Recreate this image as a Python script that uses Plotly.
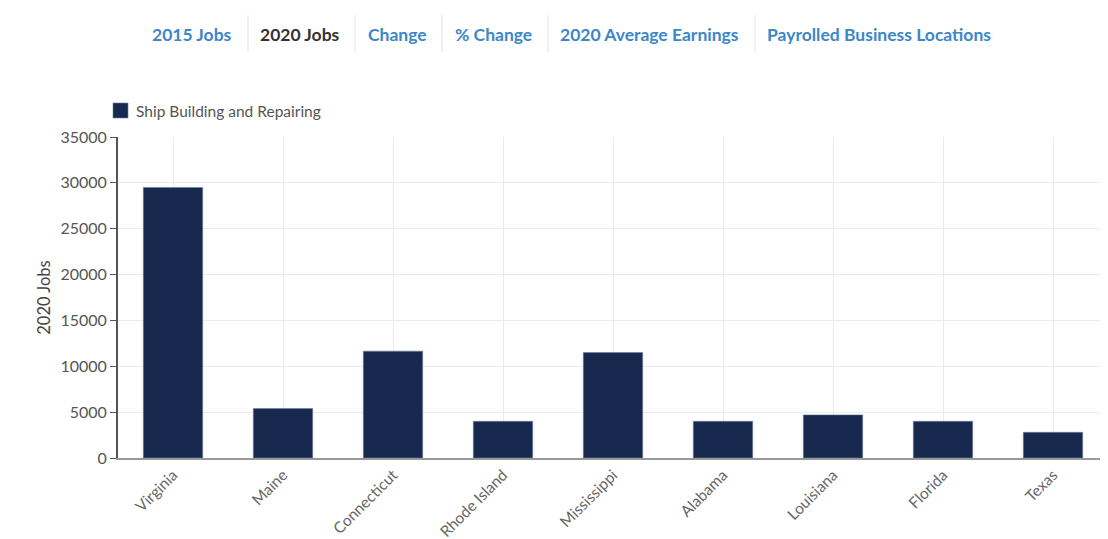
import plotly.graph_objects as go

states = ["Virginia", "Maine", "Connecticut", "Rhode Island", "Mississippi",
          "Alabama", "Louisiana", "Florida", "Texas"]
jobs_2020 = [29500, 5400, 11650, 4000, 11500, 4000, 4700, 4000, 2800]
series_name = "Ship Building and Repairing"
y_ticks = [0, 5000, 10000, 15000, 20000, 25000, 30000, 35000]
y_tick_labels = ["0", "5000", "10000", "15000", "20000", "25000", "30000", "35000"]
tabs = ["2015 Jobs", "2020 Jobs", "Change", "% Change",
        "2020 Average Earnings", "Payrolled Business Locations"]
tab_active = "2020 Jobs"

OFF = 8  # page body margin
W, H = 1108 - OFF, 539 - OFF
ML, MT = 118 - OFF, 137 - OFF
MR = 0
MB = H - (458 - OFF)
PW = W - ML - MR
PH = H - MT - MB

def px_x(p):
    return (p - OFF - ML) / PW

def px_y(p):
    return (H - MB - (p - OFF)) / PH

fig = go.Figure()
fig.add_trace(go.Bar(
    x=states, y=jobs_2020, name=series_name,
    marker=dict(color="#18294f", line=dict(color="#6f7f9c", width=0.6)),
    showlegend=False,
))

tab_centers = [192, 300, 397, 493, 649, 879]
separators = [248, 355, 442, 548, 755]
annotations = []
for t, cx in zip(tabs, tab_centers):
    annotations.append(dict(
        text="<b>" + t + "</b>",
        x=px_x(cx), y=px_y(34), xref="paper", yref="paper",
        xanchor="center", yanchor="middle", showarrow=False,
        font=dict(family="Lato", size=17.5,
                  color="#333333" if t == tab_active else "#3b87c8"),
    ))
# legend text
annotations.append(dict(
    text=series_name, x=px_x(134), y=px_y(111), xref="paper", yref="paper",
    xanchor="left", yanchor="middle", showarrow=False,
    font=dict(family="Lato", size=15.5, color="#555555"),
))
shapes = []
for sx in separators:
    shapes.append(dict(type="line", xref="paper", yref="paper",
                       x0=px_x(sx), x1=px_x(sx), y0=px_y(15), y1=px_y(52),
                       line=dict(color="#e3e3e3", width=1)))
# legend swatch
shapes.append(dict(type="rect", xref="paper", yref="paper",
                   x0=px_x(113), x1=px_x(128), y0=px_y(103), y1=px_y(118),
                   fillcolor="#18294f", line=dict(color="#6f7f9c", width=0.6)))

fig.update_layout(
    width=W, height=H,
    margin=dict(l=ML, r=MR, t=MT, b=MB, pad=0, autoexpand=False),
    paper_bgcolor="white", plot_bgcolor="white",
    font=dict(family="Lato", color="#555555"),
    bargap=0.46,
    showlegend=False,
    annotations=annotations,
    shapes=shapes,
    xaxis=dict(
        type="category", tickangle=-45, automargin=False,
        tickfont=dict(family="Lato", size=15.5, color="#666666"),
        showgrid=True, gridcolor="#ebebeb",
        showline=True, linecolor="#999999", linewidth=2,
        ticks="", fixedrange=True, ticklabelstandoff=0,
    ),
    yaxis=dict(
        range=[0, 35000], tickvals=y_ticks, ticktext=y_tick_labels,
        automargin=False,
        tickfont=dict(family="Lato", size=16, color="#555555"),
        title=dict(text="2020 Jobs", font=dict(family="Lato", size=16.5, color="#444444"), standoff=6),
        showgrid=True, gridcolor="#ebebeb",
        showline=True, linecolor="#555555", linewidth=2,
        ticks="outside", ticklen=6, tickcolor="#555555",
        zeroline=False,
    ),
)

fig.write_html("out.html")
